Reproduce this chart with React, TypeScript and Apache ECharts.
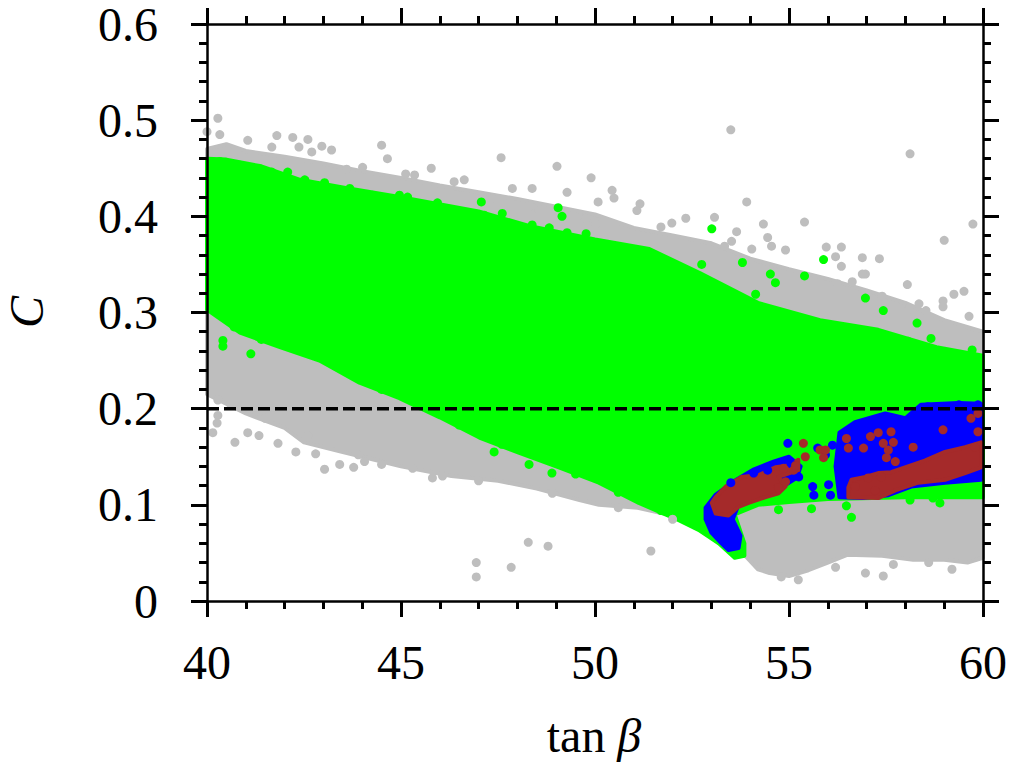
import React, { useEffect, useRef } from "react";
import * as echarts from "echarts";

// Axis ranges and reference line
const xRange: [number, number] = [40, 60];
const yRange: [number, number] = [0, 0.6];
const thresholdC = 0.2;

// Dense point clouds, traced as region outlines [tanβ, C]
const grayRegion: [number, number][] = [
  [40, 0.47], [40.5, 0.475], [41, 0.468], [42, 0.462], [43, 0.455], [44, 0.447], [45, 0.44],
  [46, 0.432], [47, 0.425], [48, 0.418], [49, 0.41], [50, 0.402], [51, 0.388], [52, 0.38],
  [53, 0.372], [54, 0.356], [55, 0.345], [56, 0.335], [57, 0.323], [58, 0.31], [59, 0.292],
  [60, 0.28], [60, 0.045], [59.6, 0.04], [59, 0.043], [58.2, 0.043], [57.4, 0.047], [56.5, 0.048],
  [56, 0.04], [55.5, 0.032], [55, 0.026], [54.5, 0.029], [54.2, 0.033], [53.9, 0.046],
  [53.7, 0.05], [53.2, 0.06], [52.7, 0.075], [52.2, 0.087], [51.1, 0.097], [50.1, 0.1],
  [49.6, 0.105], [48.5, 0.117], [47.5, 0.125], [46.3, 0.13], [45, 0.14], [43.5, 0.155],
  [42.5, 0.165], [42, 0.18], [41, 0.195], [40, 0.215],
];

const greenRegion: [number, number][] = [
  [40, 0.46], [40.5, 0.459], [41.4, 0.452], [42.4, 0.438], [43.5, 0.43], [45, 0.42], [47, 0.405],
  [48.3, 0.39], [50, 0.376], [51.4, 0.366], [52.7, 0.341], [54.2, 0.31], [55.8, 0.292],
  [57.3, 0.282], [58.8, 0.264], [60, 0.255], [60, 0.108], [58, 0.108], [56, 0.106], [55, 0.103],
  [54.2, 0.1], [53.6, 0.09], [53.85, 0.06], [53.85, 0.047], [53.6, 0.045], [53.19, 0.06],
  [52.67, 0.074], [52.16, 0.084], [51.13, 0.102], [50.1, 0.123], [49.07, 0.139], [48.05, 0.154],
  [47.02, 0.17], [46, 0.191], [44.96, 0.211], [43.93, 0.227], [42.9, 0.25], [41.88, 0.264],
  [40.85, 0.279], [40, 0.303],
];

const blueRegionA: [number, number][] = [
  [52.85, 0.097], [52.85, 0.085], [53.0, 0.071], [53.26, 0.06], [53.44, 0.053], [53.7, 0.055],
  [53.75, 0.068], [53.55, 0.085], [53.7, 0.1], [54.2, 0.11], [54.8, 0.118], [55.2, 0.128],
  [55.3, 0.14], [55.0, 0.15], [54.6, 0.145], [54.1, 0.137], [53.6, 0.125], [53.1, 0.11],
];

const blueRegionB: [number, number][] = [
  [56.3, 0.108], [56.2, 0.14], [56.3, 0.175], [56.7, 0.186], [57.48, 0.195], [58.0, 0.19],
  [58.4, 0.204], [59.36, 0.206], [59.95, 0.205], [59.95, 0.126], [59.02, 0.123], [58.15, 0.119],
  [57.56, 0.11], [56.9, 0.107],
];

const brownRegionA: [number, number][] = [
  [53.01, 0.102], [53.11, 0.091], [53.44, 0.089], [53.7, 0.098], [53.96, 0.102], [54.4, 0.108],
  [54.73, 0.112], [54.91, 0.119], [54.73, 0.129], [55.24, 0.136], [55.24, 0.147], [54.99, 0.141],
  [54.65, 0.139], [54.22, 0.131], [53.78, 0.129], [53.37, 0.119], [53.11, 0.108],
];

const brownRegionB: [number, number][] = [
  [56.53, 0.108], [57.3, 0.107], [57.74, 0.115], [58.33, 0.123], [59.02, 0.126], [59.54, 0.133],
  [59.95, 0.139], [59.95, 0.165], [59.54, 0.16], [59.02, 0.155], [58.5, 0.146], [57.99, 0.139],
  [57.63, 0.134], [57.3, 0.133], [56.97, 0.129], [56.61, 0.126], [56.53, 0.118],
];

// Individual scattered points [tanβ, C]
const grayPoints: [number, number][] = [
  [40.28, 0.502], [40, 0.488], [40.33, 0.485], [41.05, 0.479], [41.8, 0.484], [42.21, 0.482],
  [42.6, 0.48], [42.96, 0.473], [43.21, 0.469], [41.67, 0.472], [42.37, 0.472], [42.7, 0.467],
  [44.5, 0.474], [44.65, 0.46], [44.01, 0.451], [43.6, 0.449], [45.12, 0.444], [45.35, 0.443],
  [45.78, 0.45], [47.58, 0.461], [49.02, 0.452], [49.9, 0.44], [47.87, 0.429], [48.38, 0.429],
  [47.35, 0.419], [48.33, 0.411], [48.56, 0.406], [49.74, 0.398], [49.28, 0.425], [46.63, 0.438],
  [46.37, 0.436], [53.5, 0.49], [58.12, 0.465], [50.44, 0.427], [50.49, 0.419], [50.08, 0.415],
  [51.16, 0.413], [51.08, 0.406], [53.91, 0.415], [49.77, 0.398], [50.03, 0.392], [51.98, 0.393],
  [51.7, 0.389], [53.08, 0.399], [52.34, 0.398], [54.34, 0.392], [55.4, 0.394], [54.45, 0.378],
  [54.55, 0.369], [54.91, 0.365], [53.65, 0.384], [53.52, 0.374], [53.34, 0.369], [54.04, 0.366],
  [55.96, 0.368], [56.35, 0.368], [56.2, 0.358], [56.89, 0.357], [57.33, 0.356], [56.97, 0.34],
  [58.05, 0.329], [59, 0.375], [59.74, 0.392], [59.25, 0.319], [59.51, 0.322], [58.97, 0.312],
  [58.97, 0.306], [58.35, 0.309], [58.53, 0.302], [58.1, 0.304], [57.4, 0.317], [56.89, 0.34],
  [56.63, 0.332], [56.25, 0.33], [56.35, 0.348], [59.64, 0.296],
  [40.15, 0.175], [40.72, 0.165], [41.05, 0.175], [41.34, 0.172], [41.83, 0.164], [42.29, 0.155],
  [42.8, 0.153], [43.03, 0.137], [43.42, 0.142], [43.78, 0.139], [44.5, 0.142], [44.06, 0.145],
  [45.81, 0.128], [46.07, 0.13], [48.28, 0.061], [48.79, 0.057], [47.84, 0.035], [46.94, 0.04],
  [46.94, 0.025], [40.28, 0.209], [40.28, 0.193], [40.26, 0.185], [51.44, 0.052],
  [56.97, 0.029], [57.43, 0.026], [57.69, 0.038], [59.2, 0.033], [55.24, 0.022],
  [40.6, 0.205], [41.5, 0.19], [42.6, 0.172], [43.9, 0.152], [45.3, 0.138], [47.0, 0.125],
  [48.9, 0.112], [50.6, 0.097], [52.0, 0.085], [54.8, 0.025], [56.2, 0.035], [58.6, 0.04],
];

const greenPoints: [number, number][] = [
  [47.07, 0.415], [49.05, 0.409], [49.15, 0.4], [49.77, 0.382], [53.01, 0.387], [52.75, 0.35],
  [53.8, 0.352], [55.89, 0.355], [55.4, 0.338], [54.52, 0.34], [54.65, 0.331], [54.14, 0.319],
  [56.97, 0.315], [57.43, 0.302], [58.3, 0.289], [58.07, 0.27], [58.66, 0.273], [59.72, 0.261],
  [40.41, 0.271], [40.41, 0.265], [41.13, 0.257], [48.3, 0.142], [47.4, 0.155], [48.89, 0.133],
  [58.12, 0.105], [58.71, 0.107], [58.89, 0.102], [56.48, 0.099], [56.61, 0.087], [55.58, 0.096],
  [54.73, 0.095],
  [40.33, 0.457], [40.85, 0.453], [41.31, 0.446], [41.67, 0.446], [42.08, 0.446], [42.52, 0.438],
  [43.03, 0.435], [43.68, 0.429], [44.27, 0.422], [44.96, 0.422], [45.17, 0.42], [45.94, 0.414],
  [46.56, 0.401], [47.15, 0.401], [47.61, 0.403], [48.38, 0.391], [48.82, 0.388], [49.28, 0.383],
  [40.7, 0.285], [41.4, 0.272], [42.3, 0.262], [43.3, 0.245], [44.5, 0.22], [45.5, 0.203],
  [46.5, 0.183], [47.6, 0.163], [49.5, 0.132], [50.6, 0.113], [51.7, 0.094],
];

const bluePoints: [number, number][] = [
  [54.97, 0.164], [55.05, 0.143], [55.25, 0.129], [55.61, 0.119], [55.64, 0.11], [56.02, 0.121],
  [56.07, 0.11], [55.74, 0.159], [56.12, 0.162], [55.94, 0.152], [58.58, 0.202], [58.92, 0.202],
  [59.38, 0.204], [59.87, 0.204], [54.45, 0.136], [54.09, 0.133], [53.5, 0.123],
];

const brownPoints: [number, number][] = [
  [54.73, 0.118], [54.91, 0.124], [54.86, 0.138], [55.12, 0.136], [55.17, 0.141], [55.42, 0.15],
  [55.37, 0.164], [55.8, 0.157], [55.89, 0.149], [55.94, 0.157], [56.48, 0.169], [56.53, 0.159],
  [56.92, 0.159], [57.1, 0.171], [57.3, 0.175], [57.63, 0.176], [57.43, 0.164], [57.69, 0.165],
  [57.56, 0.157], [57.51, 0.149], [57.74, 0.145], [58.2, 0.16], [58.97, 0.178], [59.69, 0.19],
  [59.87, 0.195], [59.87, 0.176], [59.79, 0.16], [57.04, 0.128], [57.38, 0.129], [56.71, 0.119],
  [57.22, 0.115],
];

const COLORS = {
  gray: "#bebebe",
  green: "#00ff00",
  blue: "#0000ff",
  brown: "#a52a2a",
};

const SERIF = "'Liberation Serif', 'DejaVu Serif', serif";

function regionSeries(name: string, poly: [number, number][], color: string) {
  return {
    type: "custom",
    name,
    coordinateSystem: "cartesian2d",
    silent: true,
    clip: false,
    data: poly,
    encode: { x: 0, y: 1 },
    renderItem: (params: any, api: any) => {
      if (params.dataIndex !== 0) return null;
      const pts = poly.map((p) => api.coord(p));
      return {
        type: "polygon",
        shape: { points: pts },
        style: { fill: color, stroke: color, lineWidth: 4, lineJoin: "round" },
      };
    },
  };
}

function pointSeries(name: string, pts: [number, number][], color: string) {
  return {
    type: "scatter",
    name,
    data: pts,
    symbol: "circle",
    symbolSize: 9,
    clip: false,
    silent: true,
    itemStyle: { color, opacity: 1 },
  };
}

function axisCommon(showLabel: boolean) {
  return {
    type: "value",
    z: 10,
    axisLine: { show: true, onZero: false, lineStyle: { color: "#000", width: 2.5 } },
    axisTick: { show: true, inside: false, length: 16, lineStyle: { color: "#000", width: 3 } },
    minorTick: { show: true, splitNumber: 5, length: 8, lineStyle: { color: "#000", width: 3 } },
    splitLine: { show: false },
    minorSplitLine: { show: false },
    axisLabel: {
      show: showLabel,
      color: "#000",
      fontSize: 48,
      lineHeight: 40,
      fontFamily: SERIF,
    },
  };
}

export default function App() {
  const ref = useRef<HTMLDivElement>(null);

  useEffect(() => {
    if (!ref.current) return;
    const chart = echarts.init(ref.current, undefined, { renderer: "svg" });
    const xBase = axisCommon(true);
    const yBase = axisCommon(true);
    const option: any = {
      animation: false,
      backgroundColor: "#fff",
      grid: { left: 207, right: 29, top: 24, bottom: 163, containLabel: false },
      xAxis: [
        {
          ...xBase,
          position: "bottom",
          min: xRange[0],
          max: xRange[1],
          interval: 5,
          axisLabel: { ...xBase.axisLabel, margin: 41 },
        },
        {
          ...axisCommon(false),
          position: "top",
          min: xRange[0],
          max: xRange[1],
          interval: 5,
        },
      ],
      yAxis: [
        {
          ...yBase,
          position: "left",
          min: yRange[0],
          max: yRange[1],
          interval: 0.1,
          axisLabel: {
            ...yBase.axisLabel,
            margin: 49,
            formatter: (v: number) => (Math.abs(v) < 1e-9 ? "0" : String(Math.round(v * 10) / 10)),
          },
        },
        {
          ...axisCommon(false),
          position: "right",
          min: yRange[0],
          max: yRange[1],
          interval: 0.1,
        },
      ],
      series: [
        regionSeries("gray", grayRegion, COLORS.gray),
        pointSeries("grayPts", grayPoints, COLORS.gray),
        regionSeries("green", greenRegion, COLORS.green),
        pointSeries("greenPts", greenPoints, COLORS.green),
        regionSeries("blueA", blueRegionA, COLORS.blue),
        regionSeries("blueB", blueRegionB, COLORS.blue),
        pointSeries("bluePts", bluePoints, COLORS.blue),
        regionSeries("brownA", brownRegionA, COLORS.brown),
        regionSeries("brownB", brownRegionB, COLORS.brown),
        pointSeries("brownPts", brownPoints, COLORS.brown),
        {
          type: "line",
          name: "threshold",
          data: [
            [xRange[0], thresholdC],
            [xRange[1], thresholdC],
          ],
          symbol: "none",
          silent: true,
          z: 5,
          lineStyle: { color: "#000", width: 3.5, type: [12, 5] },
        },
      ],
      graphic: [
        {
          type: "text",
          x: 26,
          y: 312,
          rotation: Math.PI / 2,
          style: {
            text: "C",
            fill: "#000",
            fontSize: 48,
            fontStyle: "italic",
            fontFamily: SERIF,
            align: "center",
            verticalAlign: "middle",
          },
        },
        {
          type: "text",
          x: 594,
          y: 735,
          style: {
            text: "{a|tan }{b|β}",
            fill: "#000",
            fontSize: 48,
            fontFamily: SERIF,
            align: "center",
            verticalAlign: "middle",
            rich: {
              a: { fontSize: 48, fontFamily: SERIF, fill: "#000" },
              b: { fontSize: 48, fontFamily: SERIF, fontStyle: "italic", fill: "#000" },
            },
          },
        },
      ],
    };
    chart.setOption(option);
    return () => chart.dispose();
  }, []);

  return (
    <div
      ref={ref}
      style={{ position: "absolute", left: 0, top: 0, width: 1012, height: 764, background: "#fff" }}
    />
  );
}
